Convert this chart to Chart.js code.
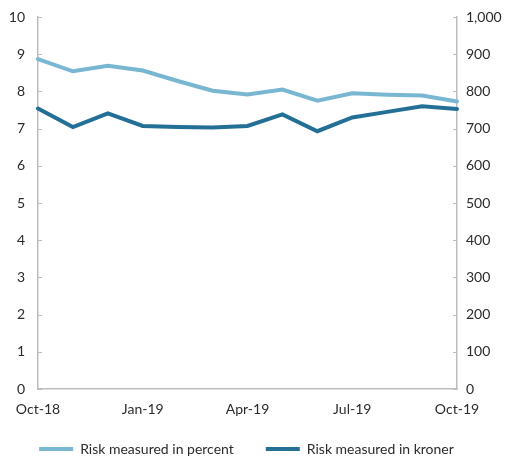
<!DOCTYPE html>
<html>
<head>
<meta charset="utf-8">
<script src="https://cdn.jsdelivr.net/npm/chart.js@4"></script>
<style>
  html, body { margin: 0; padding: 0; background: #fff; }
  #wrap { width: 505px; height: 457px; }
</style>
</head>
<body>
<div id="wrap"><canvas id="myChart" width="505" height="457"></canvas></div>
<script>
// monthly risk figures, Oct-18 to Oct-19
const months = ['Oct-18','Nov-18','Dec-18','Jan-19','Feb-19','Mar-19','Apr-19','May-19','Jun-19','Jul-19','Aug-19','Sep-19','Oct-19'];
const riskPercent = [8.87, 8.54, 8.69, 8.56, 8.28, 8.02, 7.92, 8.05, 7.75, 7.95, 7.91, 7.89, 7.73];
const riskKroner = [754, 704, 741, 707, 704, 703, 707, 738, 693, 730, 745, 760, 753];
const leftTicks = [0, 1, 2, 3, 4, 5, 6, 7, 8, 9, 10];
const rightTicks = [0, 100, 200, 300, 400, 500, 600, 700, 800, 900, 1000];

const lightBlue = '#78b6d1';
const darkBlue = '#236f96';
const axisGrey = '#bdbdbd';
const textColor = '#2b2b2b';

Chart.defaults.font.family = 'Lato, "Noto Sans", sans-serif';
Chart.defaults.font.size = 14;
Chart.defaults.color = textColor;

// small tick marks drawn inside the plot area
const innerTicks = {
    id: 'innerTicks',
    afterDraw(chart) {
        const ctx = chart.ctx;
        const area = chart.chartArea;
        ctx.save();
        ctx.strokeStyle = axisGrey;
        ctx.lineWidth = 1;
        chart.scales.y.ticks.forEach(t => {
            const py = Math.round(chart.scales.y.getPixelForValue(t.value)) + 0.5;
            ctx.beginPath();
            ctx.moveTo(area.left, py);
            ctx.lineTo(area.left + 4, py);
            ctx.stroke();
        });
        chart.scales.y1.ticks.forEach(t => {
            const py = Math.round(chart.scales.y1.getPixelForValue(t.value)) + 0.5;
            ctx.beginPath();
            ctx.moveTo(area.right, py);
            ctx.lineTo(area.right - 4, py);
            ctx.stroke();
        });
        ctx.restore();
    }
};

// small legend box in the layout, then moved to where the items should sit
const legendSpot = {
    id: 'legendSpot',
    beforeInit(chart) {
        const fit = chart.legend.fit;
        chart.legend.fit = function() {
            fit.bind(chart.legend)();
            this.height = 21;
        };
    },
    afterLayout(chart) {
        const lg = chart.legend;
        lg.top = 410;
        lg.bottom = chart.height;
        lg.left -= 6;
        lg.right -= 6;
    }
};

// fixed axis widths, no extra room above/below for the labels
const fixY = w => axis => {
    axis.width = w;
    axis.paddingTop = 0;
    axis.paddingBottom = 0;
};

const ctx = document.querySelector('#myChart');
const myChart = new Chart(ctx, {
    type: 'line',
    data: {
        labels: months,
        datasets: [{
            label: 'Risk measured in percent',
            data: riskPercent,
            yAxisID: 'y',
            borderColor: lightBlue,
            backgroundColor: lightBlue,
            borderWidth: 4,
            borderCapStyle: 'round',
            pointRadius: 0,
            tension: 0
        }, {
            label: 'Risk measured in kroner',
            data: riskKroner,
            yAxisID: 'y1',
            borderColor: darkBlue,
            backgroundColor: darkBlue,
            borderWidth: 4,
            borderCapStyle: 'round',
            pointRadius: 0,
            tension: 0
        }]
    },
    options: {
        responsive: false,
        animation: false,
        layout: { padding: { top: 17, left: 0, right: 0, bottom: 0 } },
        plugins: {
            tooltip: { enabled: false },
            legend: {
                position: 'bottom',
                labels: {
                    usePointStyle: true,
                    pointStyle: 'line',
                    pointStyleWidth: 34,
                    padding: 32,
                    color: textColor,
                    font: { size: 14 }
                }
            }
        },
        scales: {
            x: {
                offset: false,
                grid: { display: false, drawTicks: false },
                border: { display: true, color: axisGrey, width: 1.5 },
                afterFit: axis => { axis.height = 47; },
                ticks: {
                    autoSkip: false,
                    maxRotation: 0,
                    padding: 12,
                    callback: function(val, i) { return i % 3 === 0 ? months[i] : ''; }
                }
            },
            y: {
                position: 'left',
                min: 0,
                max: 10,
                afterBuildTicks: axis => { axis.ticks = leftTicks.map(v => ({ value: v })); },
                afterFit: fixY(38),
                grid: { display: false, drawTicks: false },
                border: { display: true, color: axisGrey, width: 1.5 },
                ticks: { padding: 13 }
            },
            y1: {
                position: 'right',
                min: 0,
                max: 1000,
                afterBuildTicks: axis => { axis.ticks = rightTicks.map(v => ({ value: v })); },
                afterFit: fixY(48),
                grid: { display: false, drawTicks: false },
                border: { display: true, color: axisGrey, width: 1.5 },
                ticks: {
                    padding: 9,
                    callback: v => v.toLocaleString('en-US')
                }
            }
        }
    },
    plugins: [innerTicks, legendSpot]
});
</script>
</body>
</html>
